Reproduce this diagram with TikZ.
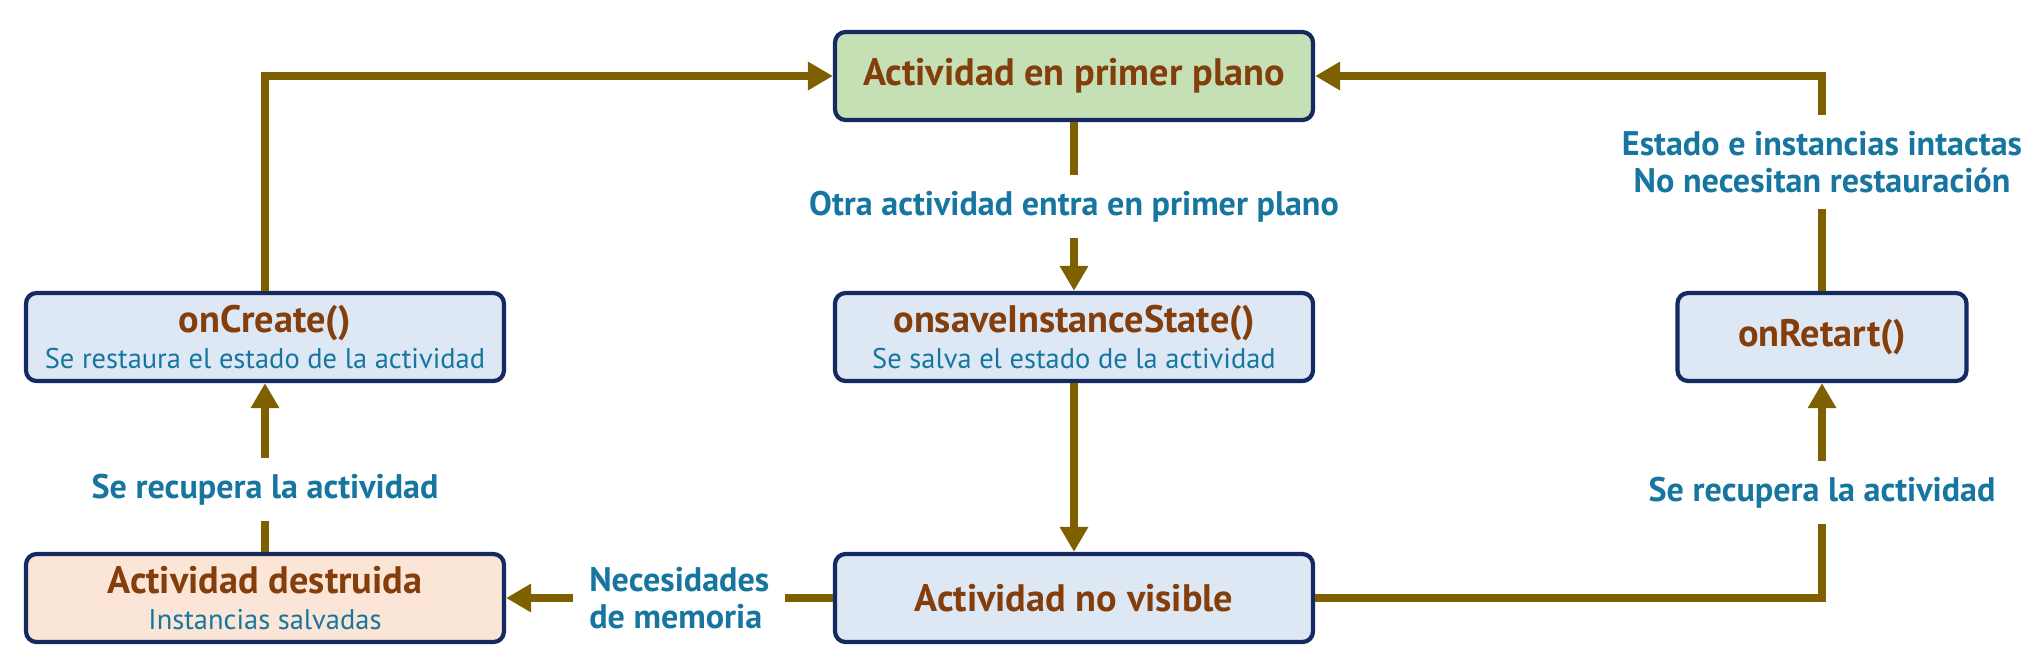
\documentclass[tikz,border=0pt]{standalone}
\usepackage{fontspec}
\setmainfont{PT Sans}
\usepackage{tikz}
\usetikzlibrary{arrows.meta}
\definecolor{flowgold}{RGB}{127,96,0}
\definecolor{boxnavy}{RGB}{22,42,98}
\definecolor{boxblue}{RGB}{222,232,245}
\definecolor{boxgreen}{RGB}{197,224,180}
\definecolor{boxpeach}{RGB}{251,229,214}
\definecolor{titlebrown}{RGB}{132,62,12}
\definecolor{labelteal}{RGB}{22,118,160}
\newcommand{\statetitle}[1]{{\color{titlebrown}\bfseries\fontsize{10.9}{12}\selectfont #1}}
\newcommand{\statesub}[1]{{\color{labelteal}\fontsize{8.1}{10}\selectfont #1}}
\tikzstyle{state}=[draw=boxnavy,line width=1.2pt,rounded corners=3pt,fill=boxblue,
                   minimum width=4.78cm,minimum height=0.88cm,align=center,inner sep=2pt,
                   font=\fontsize{8}{10}\selectfont]
\tikzstyle{flow}=[-{Triangle[length=0.25cm,width=0.27cm]},line width=2.3pt,flowgold]
\tikzstyle{lbl}=[fill=white,text=labelteal,font=\bfseries\fontsize{9.7}{10.6}\selectfont,
                 align=center,inner sep=0.16cm]

\begin{document}
\begin{tikzpicture}
  \def\xa{2.65}   % left column
  \def\xb{10.74}  % middle column
  \def\xc{18.22}  % right column
  \def\ya{-0.76}  % top row
  \def\yb{-3.37}  % middle row
  \def\yc{-5.98}  % bottom row
  \useasboundingbox (0,0) rectangle (20.38,-6.66);

  % STATES
  \node[state,fill=boxgreen] (front) at (\xb,\ya) {\statetitle{Actividad en primer plano}};
  \node[state] (create) at (\xa,\yb) {\statetitle{onCreate()}\\\statesub{Se restaura el estado de la actividad}};
  \node[state] (save) at (\xb,\yb) {\statetitle{onsaveInstanceState()}\\\statesub{Se salva el estado de la actividad}};
  \node[state,minimum width=2.89cm] (restart) at (\xc,\yb) {\statetitle{onRetart()}};
  \node[state,fill=boxpeach] (destroyed) at (\xa,\yc) {\statetitle{Actividad destruida}\\\statesub{Instancias salvadas}};
  \node[state] (hidden) at (\xb,\yc) {\statetitle{Actividad no visible}};

  % TRANSITIONS
  \draw[flow] (front) -- (save) node[midway,lbl] {Otra actividad entra en primer plano};
  \draw[flow] (save) -- (hidden);
  \draw[flow] (hidden) -- (destroyed) node[pos=0.47,lbl,align=left] {Necesidades\\de memoria};
  \draw[flow] (destroyed) -- (create) node[pos=0.37,lbl] {Se recupera la actividad};
  \draw[flow] (create.north) |- (front.west);
  \draw[flow] (hidden.east) -| (restart.south) node[pos=0.745,lbl] {Se recupera la actividad};
  \draw[flow] (restart.north) |- (front.east) node[pos=0.3,lbl] {Estado e instancias intactas\\No necesitan restauración};

\end{tikzpicture}
\end{document}
